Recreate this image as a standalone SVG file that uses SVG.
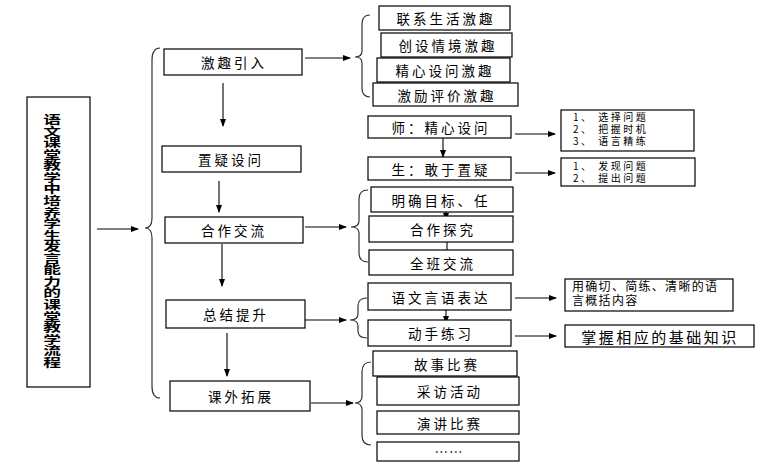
<svg xmlns="http://www.w3.org/2000/svg" width="771" height="467" viewBox="0 0 771 467">
<style>
.box{fill:#fff;stroke:#000;stroke-width:1.2}
.t{font-family:"Noto Sans CJK SC","Noto Sans CJK JP",sans-serif;font-size:13.5px;letter-spacing:3px;fill:#000;text-anchor:middle;dominant-baseline:central}
.s{font-family:"Noto Sans CJK SC",sans-serif;font-size:10px;letter-spacing:2.5px;fill:#000}
.ln{stroke:#000;stroke-width:1.1;fill:none}
.br{stroke:#333;stroke-width:1.2;fill:none}
</style>
<defs>
<marker id="ah" markerWidth="8" markerHeight="6" refX="7" refY="3" orient="auto" markerUnits="userSpaceOnUse">
<path d="M0,0 L8,3 L0,6 Z" fill="#000"/>
</marker>
</defs>
<rect width="771" height="467" fill="#fff"/>

<g id="title">
<rect class="box" x="27" y="97" width="63" height="290"/>
<text transform="translate(52,114) scale(1.15,0.75)" writing-mode="vertical-rl" font-family="Noto Sans CJK SC,sans-serif" font-size="15.4" font-weight="bold" fill="#000">语文课堂教学中培养学生发言能力的课堂教学流程</text>
</g>

<g id="connectors">
<line class="ln" x1="97" y1="229" x2="138" y2="229" marker-end="url(#ah)"/>
<path class="br" d="M160,48 Q152,48 152,60 L152,218 Q152,228 145,228 Q152,228 152,238 L152,386 Q152,398 160,398"/>
<line class="ln" x1="223" y1="83" x2="223" y2="126" marker-end="url(#ah)"/>
<line class="ln" x1="219" y1="181" x2="219" y2="212" marker-end="url(#ah)"/>
<line class="ln" x1="222" y1="244" x2="222" y2="286" marker-end="url(#ah)"/>
<line class="ln" x1="227" y1="333" x2="227" y2="376" marker-end="url(#ah)"/>

<line class="ln" x1="305" y1="58" x2="350" y2="58" marker-end="url(#ah)"/>
<path class="br" d="M370,15 Q362,15 362,24 L362,51 Q362,57 355,57 Q362,57 362,63 L362,88 Q362,97 370,97"/>

<line class="ln" x1="443" y1="137" x2="443" y2="157" marker-end="url(#ah)"/>
<line class="ln" x1="515" y1="134" x2="555" y2="134" marker-end="url(#ah)"/>
<line class="ln" x1="515" y1="173" x2="555" y2="173" marker-end="url(#ah)"/>

<line class="ln" x1="305" y1="227" x2="346" y2="227" marker-end="url(#ah)"/>
<path class="br" d="M368,190 Q359,190 359,199 L359,221 Q359,227 351,227 Q359,227 359,233 L359,253 Q359,262 368,262"/>
<line class="ln" x1="446" y1="206" x2="446" y2="220" marker-end="url(#ah)"/>
<line class="ln" x1="447" y1="241" x2="447" y2="250"/>

<line class="ln" x1="305" y1="320" x2="346" y2="320" marker-end="url(#ah)"/>
<path class="br" d="M367,298 Q358,298 358,306 L358,314 Q358,320 350,320 Q358,320 358,326 L358,331 Q358,338 367,338"/>
<line class="ln" x1="446" y1="303" x2="446" y2="323" marker-end="url(#ah)"/>
<line class="ln" x1="515" y1="298" x2="556" y2="298" marker-end="url(#ah)"/>
<line class="ln" x1="515" y1="336" x2="556" y2="336" marker-end="url(#ah)"/>

<line class="ln" x1="311" y1="403" x2="353" y2="403" marker-end="url(#ah)"/>
<path class="br" d="M371,362 Q362,362 362,372 L362,396 Q362,403 355,403 Q362,403 362,410 L362,435 Q362,445 371,445"/>
</g>

<g id="n1"><rect class="box" x="164" y="49" width="138" height="26"/><text class="t" x="234" y="62">激趣引入</text></g>
<g id="n2"><rect class="box" x="162" y="146" width="139" height="26"/><text class="t" x="231" y="159">置疑设问</text></g>
<g id="n3"><rect class="box" x="165" y="217" width="138" height="26"/><text class="t" x="234" y="230">合作交流</text></g>
<g id="n4"><rect class="box" x="166" y="300" width="139" height="28"/><text class="t" x="236" y="314">总结提升</text></g>
<g id="n5"><rect class="box" x="170" y="381" width="140" height="30"/><text class="t" x="241" y="396">课外拓展</text></g>

<g id="a1"><rect class="box" x="379" y="6" width="131" height="24"/><text class="t" x="446" y="18">联系生活激趣</text></g>
<g id="a2"><rect class="box" x="381" y="33" width="131" height="24"/><text class="t" x="448" y="45">创设情境激趣</text></g>
<g id="a3"><rect class="box" x="377" y="58" width="133" height="24"/><text class="t" x="445" y="70">精心设问激趣</text></g>
<g id="a4"><rect class="box" x="373" y="83" width="145" height="23"/><text class="t" x="447" y="94.5">激励评价激趣</text></g>

<g id="b1"><rect class="box" x="368" y="116" width="143" height="22"/><text class="t" x="441" y="127">师：精心设问</text></g>
<g id="b2"><rect class="box" x="368" y="157" width="143" height="23"/><text class="t" x="441" y="168.5">生：敢于置疑</text></g>
<g id="b3"><rect class="box" x="561" y="110" width="133" height="41"/>
<text class="s" x="573" y="121">1、   选择问题</text>
<text class="s" x="573" y="133">2、   把握时机</text>
<text class="s" x="573" y="145">3、   语言精练</text></g>
<g id="b4"><rect class="box" x="561" y="158" width="134" height="28"/>
<text class="s" x="573" y="170">1、   发现问题</text>
<text class="s" x="573" y="182">2、   提出问题</text></g>

<g id="c1"><rect class="box" x="371" y="187" width="142" height="25"/><text class="t" x="441" y="199.5">明确目标、任</text></g>
<g id="c2"><rect class="box" x="369" y="216" width="144" height="26"/><text class="t" x="443" y="229">合作探究</text></g>
<g id="c3"><rect class="box" x="369" y="250" width="144" height="25"/><text class="t" x="443" y="262.5">全班交流</text></g>

<g id="d1"><rect class="box" x="368" y="283" width="143" height="27"/><text class="t" x="441" y="296.5">语文言语表达</text></g>
<g id="d2"><rect class="box" x="368" y="320" width="143" height="26"/><text class="t" x="441" y="333">动手练习</text></g>
<g id="d3"><rect class="box" x="565" y="279" width="168" height="32"/>
<text class="s" x="572" y="291" style="font-size:12px;letter-spacing:1.3px">用确切、简练、清晰的语</text>
<text class="s" x="572" y="305" style="font-size:12px;letter-spacing:1.3px">言概括内容</text></g>
<g id="d4"><rect class="box" x="565" y="325" width="189" height="22"/><text class="t" x="660" y="336" style="font-size:15px;letter-spacing:2.5px">掌握相应的基础知识</text></g>

<g id="e1"><rect class="box" x="373" y="351" width="144" height="25"/><text class="t" x="447" y="363.5">故事比赛</text></g>
<g id="e2"><rect class="box" x="377" y="377" width="142" height="28"/><text class="t" x="450" y="391">采访活动</text></g>
<g id="e3"><rect class="box" x="377" y="411" width="142" height="23"/><text class="t" x="450" y="422.5">演讲比赛</text></g>
<g id="e4"><rect class="box" x="377" y="442" width="142" height="19"/><text class="t" x="449" y="451" style="letter-spacing:1px">……</text></g>
</svg>
